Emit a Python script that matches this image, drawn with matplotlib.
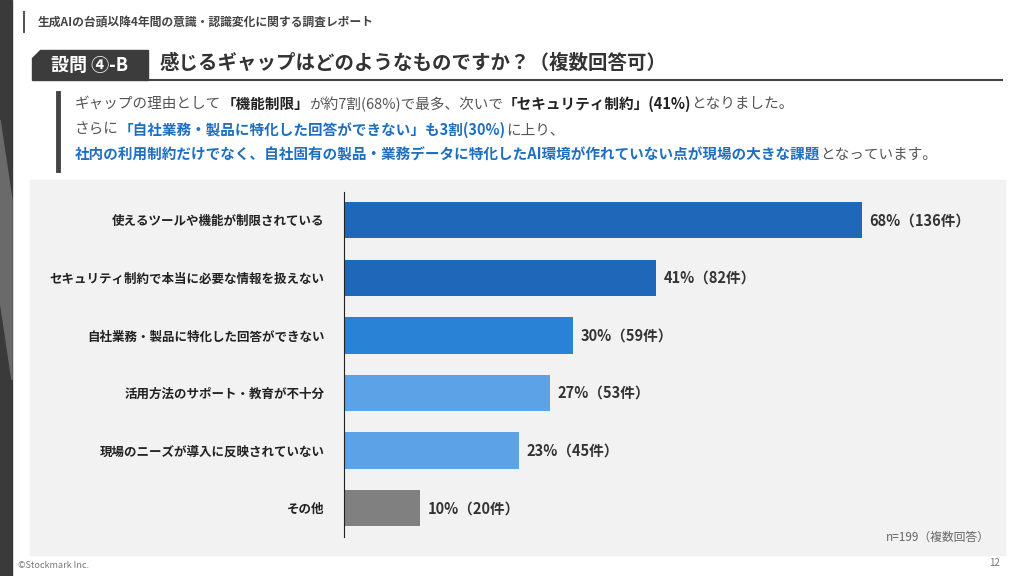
import matplotlib
matplotlib.use("Agg")
import matplotlib.pyplot as plt
from matplotlib.patches import Rectangle, Polygon

plt.rcParams['font.family'] = ['Noto Sans CJK JP', 'DejaVu Sans']

categories = ["使えるツールや機能が制限されている", "セキュリティ制約で本当に必要な情報を扱えない",
              "自社業務・製品に特化した回答ができない", "活用方法のサポート・教育が不十分",
              "現場のニーズが導入に反映されていない", "その他"]
percents = [68, 41, 30, 27, 23, 10]
counts = [136, 82, 59, 53, 45, 20]
colors = ["#1f68b9", "#1f68b9", "#2a82d6", "#5ba3e6", "#5ba3e6", "#808080"]

W, H = 1024, 576
fig = plt.figure(figsize=(W/100, H/100), dpi=100)
bg = fig.add_axes([0, 0, 1, 1])
bg.set_xlim(0, W); bg.set_ylim(H, 0); bg.axis('off')

# left decorative strip
bg.add_patch(Rectangle((0, 0), 12, H, color="#3a3a3a"))
bg.add_patch(Polygon([(0, 120), (12, 200), (12, 380), (0, 300)], color="#6a6a6a"))
# header
bg.plot([24, 24], [12, 32], color="#555", lw=1.5)
bg.text(38, 22, "生成AIの台頭以降4年間の意識・認識変化に関する調査レポート", fontsize=8.5,
        fontweight='bold', color="#444", va='center')
# title box
bg.add_patch(Polygon([(40, 50), (148, 50), (148, 80), (32, 80), (32, 58)], color="#3c3c3c"))
bg.text(90, 65, "設問 ④-B", fontsize=13, fontweight='bold', color="white", va='center', ha='center')
bg.text(160, 63, "感じるギャップはどのようなものですか？（複数回答可）", fontsize=14,
        fontweight='bold', color="#333", va='center')
bg.plot([148, 1002], [79.5, 79.5], color="#444", lw=1.5)
# body text
bg.plot([58, 58], [93, 170], color="#444", lw=3.5)
fig.canvas.draw()
r = fig.canvas.get_renderer()
def seg_line(x, y, segs):
    for txt, col, bold in segs:
        t = bg.text(x, y, txt, fontsize=10.5, color=col, fontweight='bold' if bold else 'normal', va='center')
        bb = t.get_window_extent(renderer=r)
        x += bb.width
g, k, b = "#555555", "#222222", "#1f6fc0"
seg_line(75, 104, [("ギャップの理由として", g, False), ("「機能制限」", k, True), ("が約7割(68%)で最多、次いで", g, False),
                   ("「セキュリティ制約」(41%)", k, True), ("となりました。", g, False)])
seg_line(75, 130, [("さらに", g, False), ("「自社業務・製品に特化した回答ができない」も3割(30%)", b, True), ("に上り、", g, False)])
seg_line(75, 155, [("社内の利用制約だけでなく、自社固有の製品・業務データに特化したAI環境が作れていない点が現場の大きな課題", b, True),
                   ("となっています。", g, False)])
# panel
bg.add_patch(Rectangle((30, 180), 975, 375, color="#f2f2f2", zorder=0))
bg.text(990, 537, "n=199（複数回答）", fontsize=8.5, color="#666", ha='right', va='center')
bg.text(18, 566, "©Stockmark Inc.", fontsize=6.5, color="#777", va='center')
bg.text(1000, 563, "12", fontsize=7, color="#777", ha='right', va='center')

# chart
ax = fig.add_axes([344/W, 1-537/H, (1000-344)/W, (537-192)/H])
ax.patch.set_alpha(0)
ypos = list(range(len(categories)))
ax.barh(ypos, percents, height=0.63, color=colors)
ax.set_ylim(5.5, -0.49)
ax.set_xlim(0, 86.1)
for i, (p, c) in enumerate(zip(percents, counts)):
    ax.text(p + 1, i, f"{p}%（{c}件）", va='center', fontsize=10.5, fontweight='bold', color="#333")
ax.set_yticks(ypos)
ax.set_yticklabels(categories, fontsize=9, fontweight='bold', color="#222")
ax.tick_params(axis='y', length=0, pad=14)
ax.set_xticks([])
for s in ['top', 'right', 'bottom']:
    ax.spines[s].set_visible(False)
ax.spines['left'].set_color("#222")
fig.savefig("out.png", dpi=100)
